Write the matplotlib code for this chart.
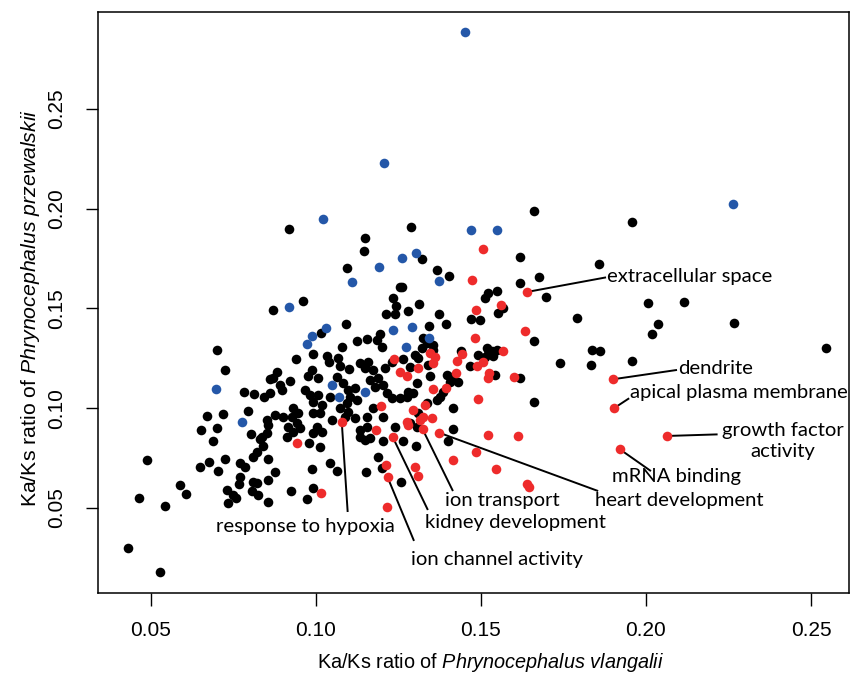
import matplotlib
matplotlib.use("Agg")
import matplotlib.pyplot as plt

# ---------------- data ----------------
black_x = [0.0700, 0.0725, 0.0781, 0.0813, 0.0843, 0.0861, 0.0669, 0.0717, 0.0793, 0.0652,
           0.0699, 0.0687, 0.0803, 0.0830, 0.0838, 0.0820, 0.0808, 0.0855, 0.0851, 0.0487,
           0.0648, 0.0677, 0.0725, 0.0704, 0.0770, 0.0785, 0.0855, 0.0770, 0.0768, 0.0810,
           0.0822, 0.0855, 0.0588, 0.0605, 0.0729, 0.0749, 0.0757, 0.0734, 0.0805, 0.0825,
           0.0855, 0.0464, 0.0543, 0.0430, 0.0526, 0.1255, 0.1232, 0.1242, 0.1212, 0.1239,
           0.1280, 0.0871, 0.0960, 0.1014, 0.1090, 0.1125, 0.1154, 0.1184, 0.1194, 0.1199,
           0.1080, 0.0992, 0.0939, 0.1032, 0.1068, 0.1039, 0.1073, 0.1100, 0.1133, 0.1157,
           0.1148, 0.1174, 0.1209, 0.1229, 0.1265, 0.0987, 0.0977, 0.1007, 0.1063, 0.0881,
           0.0871, 0.0921, 0.0891, 0.0896, 0.0861, 0.1083, 0.1098, 0.1118, 0.1164, 0.1189,
           0.1179, 0.1204, 0.1214, 0.1229, 0.1255, 0.1275, 0.0967, 0.0982, 0.1007, 0.0992,
           0.1017, 0.1042, 0.1103, 0.1123, 0.1093, 0.1073, 0.1098, 0.1174, 0.1204, 0.1154,
           0.1118, 0.1088, 0.1048, 0.1012, 0.0992, 0.0931, 0.0946, 0.0926, 0.0901, 0.0876,
           0.0851, 0.0916, 0.0942, 0.0952, 0.0931, 0.1002, 0.1017, 0.0992, 0.1133, 0.1154,
           0.1239, 0.0835, 0.0911, 0.1133, 0.1148, 0.1164, 0.1265, 0.0979, 0.1012, 0.1202,
           0.1189, 0.1199, 0.1258, 0.1152, 0.1042, 0.1065, 0.0987, 0.0876, 0.0923, 0.0990,
           0.0974, 0.1661, 0.1288, 0.1320, 0.1618, 0.1366, 0.1404, 0.1618, 0.1677, 0.1697,
           0.1260, 0.1548, 0.1522, 0.1512, 0.1568, 0.1553, 0.1470, 0.1497, 0.1313, 0.1373,
           0.1393, 0.1343, 0.1661, 0.1324, 0.1335, 0.1354, 0.1320, 0.1355, 0.1300, 0.1310,
           0.1340, 0.1285, 0.1439, 0.1467, 0.1492, 0.1517, 0.1532, 0.1522, 0.1548, 0.1512,
           0.1537, 0.1396, 0.1411, 0.1345, 0.1542, 0.1618, 0.1305, 0.1406, 0.1431, 0.1386,
           0.1376, 0.1366, 0.1280, 0.1295, 0.1661, 0.1335, 0.1416, 0.1310, 0.1285, 0.1305,
           0.1303, 0.1414, 0.1401, 0.1958, 0.1857, 0.2007, 0.2116, 0.1792, 0.2035, 0.2017,
           0.2267, 0.2545, 0.1837, 0.1861, 0.1739, 0.1834, 0.1958, 0.0917, 0.1149, 0.1145,
           0.1093]
black_y = [0.1290, 0.1190, 0.1083, 0.1070, 0.1056, 0.1145, 0.0960, 0.0971, 0.0988, 0.0892,
           0.0899, 0.0837, 0.0869, 0.0846, 0.0811, 0.0782, 0.0757, 0.0916, 0.0874, 0.0739,
           0.0707, 0.0732, 0.0746, 0.0687, 0.0724, 0.0707, 0.0744, 0.0657, 0.0620, 0.0632,
           0.0627, 0.0640, 0.0617, 0.0569, 0.0590, 0.0565, 0.0549, 0.0527, 0.0585, 0.0565,
           0.0529, 0.0549, 0.0512, 0.0298, 0.0181, 0.1609, 0.1551, 0.1513, 0.1471, 0.1472,
           0.1489, 0.1492, 0.1538, 0.1379, 0.1422, 0.1336, 0.1346, 0.1342, 0.1372, 0.1309,
           0.1306, 0.1272, 0.1245, 0.1262, 0.1250, 0.1233, 0.1212, 0.1195, 0.1225, 0.1233,
           0.1200, 0.1192, 0.1200, 0.1233, 0.1245, 0.1192, 0.1162, 0.1153, 0.1158, 0.1183,
           0.1150, 0.1137, 0.1117, 0.1092, 0.1075, 0.1125, 0.1092, 0.1100, 0.1142, 0.1150,
           0.1108, 0.1117, 0.1075, 0.1050, 0.1050, 0.1058, 0.1092, 0.1066, 0.1066, 0.1033,
           0.1016, 0.1058, 0.1058, 0.1041, 0.1025, 0.1000, 0.0983, 0.1000, 0.0958, 0.0958,
           0.0950, 0.0958, 0.0941, 0.0975, 0.0975, 0.1000, 0.0975, 0.0958, 0.0958, 0.0966,
           0.0941, 0.0908, 0.0925, 0.0900, 0.0882, 0.0908, 0.0882, 0.0874, 0.0891, 0.0908,
           0.0908, 0.0857, 0.0857, 0.0857, 0.0841, 0.0851, 0.0837, 0.0824, 0.0807, 0.0837,
           0.0754, 0.0699, 0.0629, 0.0682, 0.0724, 0.0687, 0.0694, 0.0682, 0.0587, 0.0599,
           0.0544, 0.1987, 0.1907, 0.1748, 0.1760, 0.1693, 0.1663, 0.1628, 0.1656, 0.1559,
           0.1606, 0.1589, 0.1576, 0.1554, 0.1501, 0.1476, 0.1447, 0.1442, 0.1523, 0.1471,
           0.1421, 0.1412, 0.1336, 0.1352, 0.1326, 0.1317, 0.1301, 0.1292, 0.1267, 0.1250,
           0.1217, 0.1208, 0.1288, 0.1213, 0.1267, 0.1301, 0.1288, 0.1272, 0.1292, 0.1258,
           0.1262, 0.1167, 0.1158, 0.1162, 0.1167, 0.1150, 0.1128, 0.1133, 0.1133, 0.1083,
           0.1058, 0.1041, 0.1083, 0.1075, 0.1030, 0.1025, 0.1000, 0.0975, 0.0925, 0.0908,
           0.0811, 0.0895, 0.0834, 0.1935, 0.1725, 0.1526, 0.1534, 0.1451, 0.1422, 0.1372,
           0.1426, 0.1300, 0.1292, 0.1285, 0.1225, 0.1218, 0.1238, 0.1900, 0.1852, 0.1790,
           0.1702]

blue_x = [0.0696, 0.0777, 0.1109, 0.0919, 0.1030, 0.0989, 0.0972, 0.1234, 0.1272, 0.1049,
          0.1069, 0.1149, 0.1470, 0.1548, 0.1260, 0.1303, 0.1374, 0.1292, 0.1343, 0.2265,
          0.1451, 0.1205, 0.1021, 0.1190]
blue_y = [0.1096, 0.0930, 0.1634, 0.1509, 0.1404, 0.1364, 0.1321, 0.1392, 0.1309, 0.1115,
          0.1056, 0.1081, 0.1893, 0.1893, 0.1752, 0.1780, 0.1639, 0.1406, 0.1351, 0.2022,
          0.2886, 0.2228, 0.1947, 0.1710]

red_x = [0.1237, 0.1255, 0.1275, 0.1196, 0.1078, 0.1181, 0.1275, 0.1232, 0.0942, 0.1212,
         0.1217, 0.1015, 0.1214, 0.1507, 0.1474, 0.1640, 0.1562, 0.1486, 0.1634, 0.1483,
         0.1345, 0.1361, 0.1355, 0.1310, 0.1441, 0.1426, 0.1487, 0.1507, 0.1568, 0.1424,
         0.1525, 0.1522, 0.1601, 0.1355, 0.1395, 0.1490, 0.1330, 0.1295, 0.1325, 0.1351,
         0.1315, 0.1280, 0.1323, 0.1374, 0.1522, 0.1611, 0.1484, 0.1416, 0.1545, 0.1300,
         0.1310, 0.1638, 0.1646, 0.1899, 0.1903, 0.2063, 0.1921]
red_y = [0.1245, 0.1183, 0.1162, 0.1011, 0.0933, 0.0891, 0.0933, 0.0857, 0.0824, 0.0716,
         0.0654, 0.0574, 0.0507, 0.1798, 0.1644, 0.1583, 0.1518, 0.1492, 0.1389, 0.1352,
         0.1275, 0.1258, 0.1225, 0.1200, 0.1270, 0.1237, 0.1212, 0.1233, 0.1288, 0.1175,
         0.1178, 0.1150, 0.1155, 0.1095, 0.1100, 0.1045, 0.1016, 0.0991, 0.0958, 0.0950,
         0.0941, 0.0916, 0.0895, 0.0877, 0.0866, 0.0862, 0.0779, 0.0741, 0.0695, 0.0707,
         0.0662, 0.0619, 0.0607, 0.1145, 0.1000, 0.0861, 0.0794]

# annotated GO terms: (label, point x, point y)
ann_labels = ["extracellular space", "dendrite", "apical plasma membrane",
              "growth factor\nactivity", "mRNA binding", "heart development",
              "ion transport", "kidney development", "ion channel activity",
              "response to hypoxia"]
ann_px = [0.1640, 0.1899, 0.1903, 0.2063, 0.1921, 0.1374, 0.1323, 0.1232, 0.1217, 0.1078]
ann_py = [0.1583, 0.1145, 0.1000, 0.0861, 0.0794, 0.0877, 0.0895, 0.0857, 0.0654, 0.0933]

x_ticks = [0.05, 0.10, 0.15, 0.20, 0.25]
y_ticks = [0.05, 0.10, 0.15, 0.20, 0.25]
tick_labels = ["0.05", "0.10", "0.15", "0.20", "0.25"]

# ---------------- fonts ----------------
plt.rcParams['mathtext.fontset'] = 'custom'
plt.rcParams['mathtext.rm'] = 'Liberation Sans'
plt.rcParams['mathtext.it'] = 'Liberation Sans:italic'

TICK_FAM = ['Liberation Sans', 'DejaVu Sans']
ANN = ['Lato', 'DejaVu Sans']

fig = plt.figure(figsize=(8.53, 6.76), dpi=100)
ax = fig.add_axes([98/853, 1-593/676, (849-98)/853, (593-12)/676])

BLUE = '#2457a8'
RED = '#ee2b2b'
S = 48
ax.scatter(black_x, black_y, s=S, c='black', linewidths=0, zorder=2)
ax.scatter(blue_x, blue_y, s=S, c=BLUE, linewidths=0, zorder=3)
ax.scatter(red_x, red_y, s=S, c=RED, linewidths=0, zorder=3)

ax.set_xlim(0.03394, 0.26152)
ax.set_ylim(0.00739, 0.29862)

# annotation geometry (line end and text anchor, data coords)
line_end = [(0.1879, 0.1656), (0.2094, 0.1192), (0.1949, 0.1050), (0.2217, 0.0869),
            (0.2015, 0.0685), (0.1855, 0.0585), (0.1415, 0.0585), (0.1339, 0.0490),
            (0.1297, 0.0335), (0.1096, 0.0480)]
text_pos = [(0.1883, 0.1658, 'left'), (0.2096, 0.1197, 'left'), (0.1951, 0.1081, 'left'),
            (0.2415, 0.0836, 'center'), (0.2091, 0.0660, 'center'), (0.2100, 0.0540, 'center'),
            (0.1564, 0.0540, 'center'), (0.1603, 0.0425, 'center'), (0.1548, 0.0244, 'center'),
            (0.0967, 0.0405, 'center')]
for lab, px, py, le, tp in zip(ann_labels, ann_px, ann_py, line_end, text_pos):
    ax.plot([px, le[0]], [py, le[1]], color='black', lw=1.4, zorder=1,
            solid_capstyle='butt')
    ax.text(tp[0], tp[1], lab, ha=tp[2], va='center', multialignment='center',
            fontsize=14.6, family=ANN, linespacing=1.3, zorder=4)

ax.set_xticks(x_ticks)
ax.set_xticklabels(tick_labels, family=TICK_FAM, fontsize=15)
ax.set_yticks(y_ticks)
ax.set_yticklabels(tick_labels, family=TICK_FAM, fontsize=15, rotation=90, va='center')
ax.tick_params(axis='both', direction='out', length=9, width=1.0, color='black')
ax.tick_params(axis='x', pad=11)
ax.tick_params(axis='y', pad=14)
for sp in ax.spines.values():
    sp.set_linewidth(1.1)
    sp.set_color('black')

fig.text(491/853, 1-662/676, r"Ka/Ks ratio of $\mathit{Phrynocephalus\ vlangalii}$",
         ha='center', va='center', fontsize=14.3, family='Liberation Sans')
fig.text(31/853, 1-308/676, r"Ka/Ks ratio of $\mathit{Phrynocephalus\ przewalskii}$",
         ha='center', va='center', rotation=90, fontsize=15.3, family='Liberation Sans')

fig.savefig('out.png', dpi=100)
